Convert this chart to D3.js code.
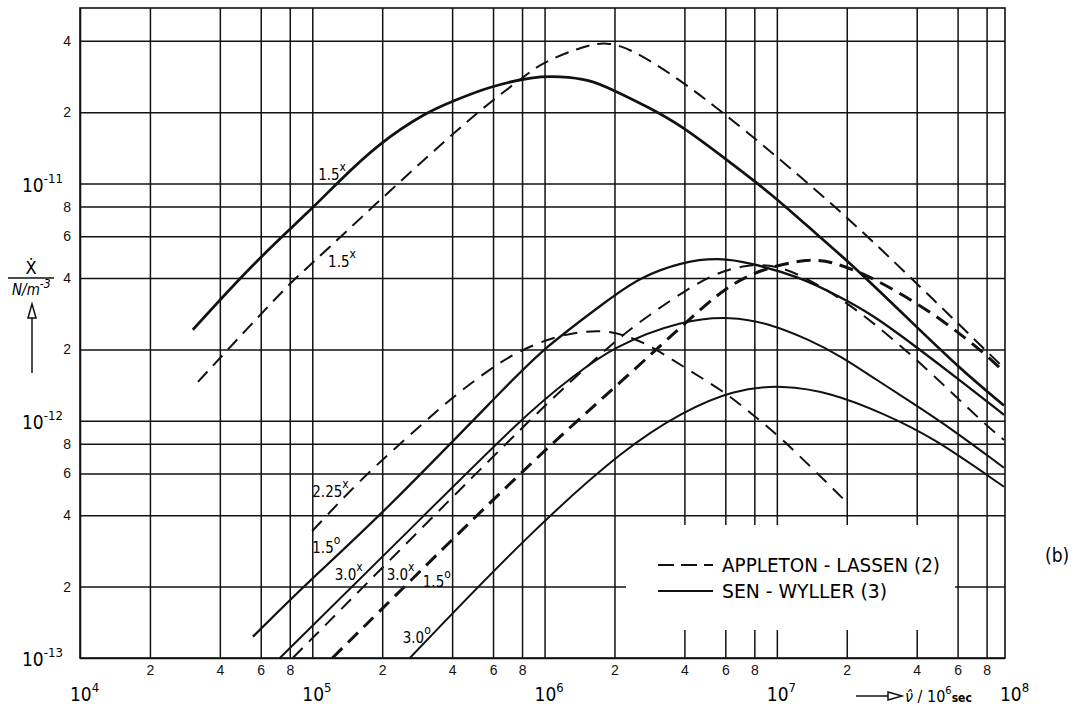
<!DOCTYPE html>
<html>
<head>
<meta charset="utf-8">
<script src="https://cdn.jsdelivr.net/npm/d3@7"></script>
<style>
  body { margin: 0; background: #fff; }
  svg { font-family: "DejaVu Sans Condensed", "Liberation Sans Narrow", "DejaVu Sans", sans-serif; }
  .grid line { stroke: #111; stroke-width: 1.5; }
  .grid text { font-size: 14px; fill: #111; }
</style>
</head>
<body>
<svg id="chart" width="1084" height="706"></svg>
<script>
// values: [frequency nu (1/s), chi (N/m^3)]
var sw15x = [[3.06e4,2.42e-12],[5.55e4,4.6e-12],[1.0e5,7.85e-12],[1.27e5,1.0e-11],[1.95e5,1.49e-11],[3.1e5,2.0e-11],[4.0e5,2.22e-11],[5.8e5,2.57e-11],[9.0e5,2.83e-11],[1.16e6,2.83e-11],[1.56e6,2.75e-11],[1.96e6,2.49e-11],[2.83e6,2.09e-11],[3.93e6,1.74e-11],[5.83e6,1.30e-11],[9.57e6,9.0e-12],[1.52e7,5.98e-12],[2.11e7,4.55e-12],[3.83e7,2.59e-12],[6.1e7,1.67e-12],[9.5e7,1.16e-12]];
var al15x = [[3.22e4,1.46e-12],[8.0e4,3.82e-12],[9.56e4,4.42e-12],[1.82e5,8.0e-12],[3.9e5,1.58e-11],[5.8e5,2.2e-11],[8.37e5,2.88e-11],[9.8e5,3.24e-11],[1.46e6,3.79e-11],[1.85e6,3.97e-11],[2.39e6,3.68e-11],[3.81e6,2.75e-11],[5.83e6,2.0e-11],[9.57e6,1.35e-11],[1.91e7,7.55e-12],[3.37e7,4.47e-12],[9.5e7,1.67e-12]];
var al225x = [[1.0e5,3.43e-13],[1.65e5,5.8e-13],[2.81e5,9.2e-13],[3.9e5,1.23e-12],[5.98e5,1.69e-12],[8.0e5,2.0e-12],[1.16e6,2.31e-12],[1.78e6,2.44e-12],[2.32e6,2.26e-12],[2.92e6,2.05e-12],[3.7e6,1.76e-12],[6.07e6,1.31e-12],[7.4e6,1.11e-12],[9.95e6,8.9e-13],[1.97e7,4.6e-13]];
var sw15o = [[5.55e4,1.23e-13],[9.76e4,2.13e-13],[1.95e5,3.94e-13],[7.28e5,1.49e-12],[9.8e5,2.0e-12],[1.96e6,3.34e-12],[2.56e6,4.01e-12],[3.93e6,4.69e-12],[5.66e6,4.87e-12],[7.62e6,4.64e-12],[1.25e7,4.05e-12],[1.86e7,3.34e-12],[2.58e7,2.80e-12],[3.98e7,2.05e-12],[6.1e7,1.49e-12],[9.5e7,1.06e-12]];
var sw30x = [[7.25e4,1.0e-13],[2.38e5,3.15e-13],[8.62e5,1.11e-12],[1.32e6,1.53e-12],[1.96e6,2.05e-12],[3.93e6,2.67e-12],[6.44e6,2.75e-12],[9.0e6,2.59e-12],[1.38e7,2.2e-12],[1.91e7,1.86e-12],[2.68e7,1.49e-12],[3.83e7,1.19e-12],[5.69e7,9.2e-13],[9.5e7,6.34e-13]];
var al30x = [[8.24e4,1.0e-13],[7.8e5,9.2e-13],[1.32e6,1.49e-12],[2.04e6,2.2e-12],[2.83e6,2.80e-12],[4.08e6,3.57e-12],[5.5e6,4.21e-12],[7.4e6,4.55e-12],[9.95e6,4.55e-12],[1.38e7,3.94e-12],[1.86e7,3.3e-12],[2.58e7,2.62e-12],[4.4e7,1.67e-12],[7.65e7,9.9e-13],[9.5e7,8.3e-13]];
var al15o = [[1.22e5,1.0e-13],[8.62e5,6.65e-13],[1.96e6,1.35e-12],[4.64e6,2.94e-12],[6.44e6,3.82e-12],[9.0e6,4.42e-12],[1.38e7,4.83e-12],[1.73e7,4.69e-12],[2.43e7,4.13e-12],[3.61e7,3.34e-12],[5.36e7,2.59e-12],[7.96e7,1.9e-12],[9.5e7,1.61e-12]];
var sw30o = [[2.63e5,1.0e-13],[8.62e5,3.37e-13],[2.25e6,7.77e-13],[3.93e6,1.09e-12],[6.44e6,1.35e-12],[1.06e7,1.42e-12],[1.73e7,1.31e-12],[2.84e7,1.08e-12],[4.67e7,8.56e-13],[9.5e7,5.27e-13]];

// curve labels: text, superscript, anchor [nu, chi]
var curveLabels = [
  ["1.5", "x", [1.06e5, 1.04e-11]],
  ["1.5", "x", [1.17e5, 4.47e-12]],
  ["2.25", "x", [1.0e5, 4.78e-13]],
  ["1.5", "o", [1.0e5, 2.77e-13]],
  ["3.0", "x", [1.25e5, 2.13e-13]],
  ["3.0", "x", [2.09e5, 2.13e-13]],
  ["1.5", "o", [2.99e5, 2.0e-13]],
  ["3.0", "o", [2.45e5, 1.16e-13]]
];

var xDecades = [4, 5, 6, 7],
    yDecades = [-13, -12, -11],
    mantissas = [1, 2, 4, 6, 8];

var plotLeft = 80, plotRight = 1005, plotTop = 8, plotBottom = 658;

var svg = d3.select("#chart");

var x = d3.scaleLog().domain([1e4, 9.6e7]).range([plotLeft, plotRight]);
var y = d3.scaleLog().domain([1e-13, 5.5e-11]).range([plotBottom, plotTop]);

var xTicks = [], yTicks = [];
xDecades.forEach(function(k) { mantissas.forEach(function(m) { xTicks.push(m * Math.pow(10, k)); }); });
yDecades.forEach(function(k) { mantissas.forEach(function(m) {
    var v = m * Math.pow(10, k);
    if (v <= 5.5e-11) yTicks.push(v);
}); });

function mant(d) {
    var k = Math.floor(Math.log10(d) + 1e-9);
    var m = Math.round(d / Math.pow(10, k));
    return m === 1 ? "" : m;
}

//********** GRID ************
var xAxis = d3.axisBottom(x).tickValues(xTicks).tickSize(-(plotBottom - plotTop)).tickPadding(7).tickFormat(mant);
var yAxis = d3.axisLeft(y).tickValues(yTicks).tickSize(-(plotRight - plotLeft)).tickPadding(9).tickFormat(mant);

svg.append("g").attr("class", "grid")
    .attr("transform", "translate(0," + plotBottom + ")")
    .call(xAxis)
    .call(function(g) { g.select(".domain").remove(); });

svg.append("g").attr("class", "grid")
    .attr("transform", "translate(" + plotLeft + ",0)")
    .call(yAxis)
    .call(function(g) { g.select(".domain").remove(); });

svg.append("rect")
    .attr("x", plotLeft).attr("y", plotTop)
    .attr("width", plotRight - plotLeft).attr("height", plotBottom - plotTop)
    .style("fill", "none").style("stroke", "#111").style("stroke-width", 1.6);

// legend area is left blank in the grid
svg.append("rect")
    .attr("x", 626).attr("y", 525).attr("width", 329).attr("height", 105)
    .style("fill", "#fff");

// decade labels
xDecades.concat([8]).forEach(function(k) {
    var t = svg.append("text")
        .attr("x", k === 8 ? 1000 : x(Math.pow(10, k)) - 10)
        .attr("y", 701)
        .style("font-size", "19px");
    t.append("tspan").text("10");
    t.append("tspan").attr("dy", -9).style("font-size", "13px").text(k);
});
yDecades.forEach(function(k) {
    var t = svg.append("text")
        .attr("x", 22).attr("y", y(Math.pow(10, k)) + 8)
        .style("font-size", "19px");
    t.append("tspan").text("10");
    t.append("tspan").attr("dy", -9).style("font-size", "13px").text("-" + (-k));
});

//********** CURVES ************
svg.append("clipPath").attr("id", "plot")
    .append("rect").attr("x", plotLeft).attr("y", plotTop)
    .attr("width", plotRight - plotLeft).attr("height", plotBottom - plotTop);

var line = d3.line()
    .x(function(d) { return x(d[0]); })
    .y(function(d) { return y(d[1]); })
    .curve(d3.curveBasis);

var curves = [
    {data: sw15x, w: 2.7, dash: null},
    {data: sw15o, w: 2.3, dash: null},
    {data: sw30x, w: 2.0, dash: null},
    {data: sw30o, w: 2.0, dash: null},
    {data: al15x, w: 2.0, dash: "14,8"},
    {data: al225x, w: 2.0, dash: "14,9"},
    {data: al30x, w: 2.0, dash: "14,9"},
    {data: al15o, w: 3.0, dash: "14,8"}
];

svg.append("g").attr("clip-path", "url(#plot)")
    .selectAll("path")
    .data(curves)
    .enter().append("path")
    .attr("d", function(d) { return line(d.data); })
    .style("fill", "none")
    .style("stroke", "#111")
    .style("stroke-width", function(d) { return d.w; })
    .style("stroke-dasharray", function(d) { return d.dash; });

var lab = svg.selectAll(".clabel")
    .data(curveLabels)
    .enter().append("text")
    .attr("class", "clabel")
    .attr("x", function(d) { return x(d[2][0]); })
    .attr("y", function(d) { return y(d[2][1]); })
    .style("font-size", "15px");
lab.append("tspan").text(function(d) { return d[0]; });
lab.append("tspan").attr("dy", -9).style("font-size", "12px").text(function(d) { return d[1]; });

//********** LEGEND ************
svg.append("line").attr("x1", 658).attr("x2", 713).attr("y1", 565).attr("y2", 565)
    .style("stroke", "#111").style("stroke-width", 2).style("stroke-dasharray", "16,7");
svg.append("line").attr("x1", 658).attr("x2", 713).attr("y1", 591).attr("y2", 591)
    .style("stroke", "#111").style("stroke-width", 2);
svg.append("text").attr("x", 722).attr("y", 572).style("font-size", "19px")
    .attr("textLength", 218).attr("lengthAdjust", "spacingAndGlyphs")
    .text("APPLETON - LASSEN (2)");
svg.append("text").attr("x", 722).attr("y", 598).style("font-size", "19px")
    .attr("textLength", 165).attr("lengthAdjust", "spacingAndGlyphs")
    .text("SEN - WYLLER (3)");

svg.append("text").attr("x", 1045).attr("y", 562).style("font-size", "19px").text("(b)");

//********** AXIS TITLES ************
svg.append("text").attr("x", 31).attr("y", 274).style("font-size", "18px")
    .style("text-anchor", "middle").text("\u1E8A");
svg.append("line").attr("x1", 8).attr("x2", 54).attr("y1", 278).attr("y2", 278)
    .style("stroke", "#111").style("stroke-width", 1.3);
var nm = svg.append("text").attr("x", 12).attr("y", 295).style("font-size", "15px").style("font-style", "italic");
nm.append("tspan").text("N/m");
nm.append("tspan").attr("dy", -7).style("font-size", "12px").text("-3");
svg.append("line").attr("x1", 32).attr("x2", 32).attr("y1", 373).attr("y2", 312)
    .style("stroke", "#111").style("stroke-width", 1.5);
svg.append("path").attr("d", "M32,304 L28,318 L36,318 Z")
    .style("fill", "#fff").style("stroke", "#111").style("stroke-width", 1.5);

svg.append("line").attr("x1", 856).attr("x2", 890).attr("y1", 696).attr("y2", 696)
    .style("stroke", "#111").style("stroke-width", 1.5);
svg.append("path").attr("d", "M902,696 L888,692 L888,700 Z")
    .style("fill", "#fff").style("stroke", "#111").style("stroke-width", 1.5);
var nu = svg.append("text").attr("x", 905).attr("y", 702).style("font-size", "16px");
nu.append("tspan").style("font-style", "italic").text("\u03BD\u0302");
nu.append("tspan").text(" / 10");
nu.append("tspan").attr("dy", -8).style("font-size", "11px").text("6");
nu.append("tspan").attr("dy", 8).style("font-size", "12px").style("font-weight", "bold").text("sec");
</script>
</body>
</html>
